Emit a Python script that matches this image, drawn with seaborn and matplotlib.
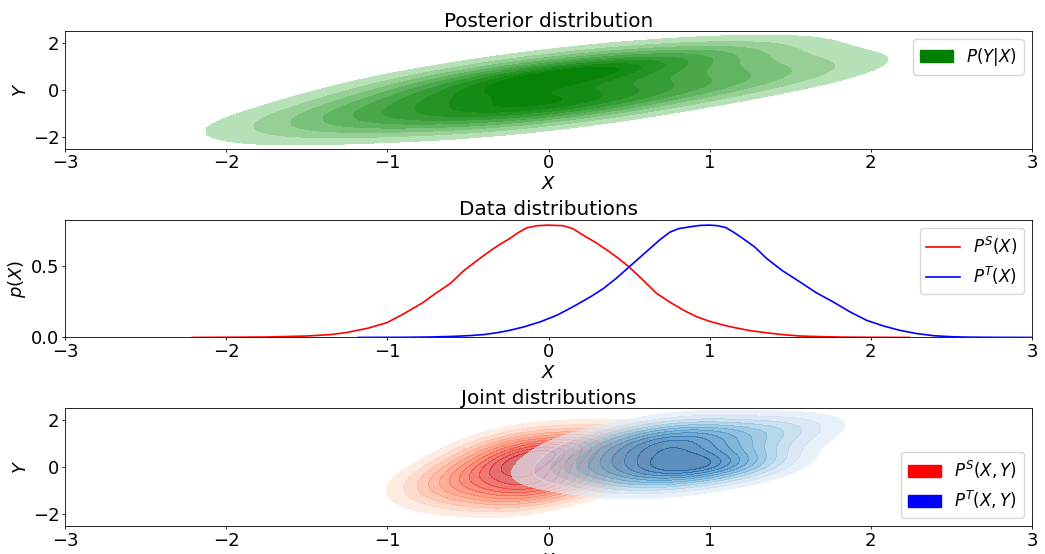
import matplotlib
matplotlib.use("Agg")
import matplotlib.pyplot as plt
from matplotlib.patches import Patch
from matplotlib.colors import ListedColormap
import seaborn as sns
import numpy as np

# posterior samples P(Y|X)
post_x = [-1.6, -1.3, -1.1, -0.9, -0.8, -0.6, -0.5, -0.4, -0.3, -0.2, -0.1, 0.0,
          0.0, 0.1, 0.2, 0.3, 0.4, 0.5, 0.6, 0.8, 0.9, 1.1, 1.3, 1.6]
post_y = [-1.25, -1.66, -0.52, -1.01, 0.32, -1.05, -0.23, -1.28, 0.29, 0.61, -0.32, 1.13,
          -1.13, -0.68, 0.52, -0.29, 1.28, 0.98, -0.46, 1.19, 0.38, 1.52, 0.29, 1.00]

# data distributions p(X)
ps_x = [-2.21, -2.0, -1.75, -1.5, -1.35, -1.25, -1.12, -1.0, -0.9, -0.78, -0.7, -0.61,
        -0.53, -0.45, -0.36, -0.3, -0.24, -0.19, -0.135, -0.07, 0.0, 0.09, 0.15, 0.22,
        0.3, 0.38, 0.44, 0.5, 0.58, 0.67, 0.75, 0.84, 0.92, 1.0, 1.08, 1.15, 1.25,
        1.35, 1.45, 1.56, 1.7, 1.85, 2.0, 2.24]
ps_y = [0.0, 0.001, 0.003, 0.01, 0.02, 0.035, 0.065, 0.105, 0.165, 0.244, 0.31, 0.378,
        0.465, 0.535, 0.61, 0.655, 0.695, 0.735, 0.77, 0.785, 0.789, 0.785, 0.765, 0.715,
        0.662, 0.60, 0.55, 0.495, 0.41, 0.31, 0.25, 0.19, 0.145, 0.113, 0.088, 0.07, 0.048,
        0.033, 0.02, 0.01, 0.005, 0.002, 0.001, 0.0]
pt_x = [-1.18, -0.9, -0.735, -0.6, -0.5, -0.4, -0.32, -0.24, -0.156, -0.05, 0.05, 0.11,
        0.175, 0.26, 0.34, 0.42, 0.5, 0.57, 0.63, 0.69, 0.754, 0.81, 0.878, 0.94, 1.0,
        1.05, 1.1, 1.15, 1.2, 1.28, 1.354, 1.45, 1.56, 1.66, 1.767, 1.87, 1.974, 2.08,
        2.18, 2.28, 2.39, 2.5, 2.6, 2.8, 3.0]
pt_y = [0.0, 0.001, 0.003, 0.007, 0.012, 0.02, 0.033, 0.05, 0.073, 0.11, 0.155, 0.19,
        0.23, 0.285, 0.343, 0.415, 0.495, 0.565, 0.625, 0.685, 0.74, 0.765, 0.777, 0.787,
        0.789, 0.785, 0.772, 0.738, 0.70, 0.635, 0.554, 0.47, 0.39, 0.315, 0.249, 0.18,
        0.12, 0.08, 0.05, 0.028, 0.012, 0.005, 0.002, 0.0005, 0.0]

# joint samples
src_x = [-0.73, -0.59, -0.49, -0.41, -0.34, -0.26, -0.23, -0.15, -0.12, -0.12, -0.09, -0.01,
         0.02, 0.10, 0.17, 0.25, 0.35, 0.49]
src_y = [-0.59, -1.16, 0.06, -0.55, 0.81, -1.12, 0.05, -0.57, 1.11, -1.21, 0.47, 0.52,
         -0.80, 0.74, -0.38, 1.00, -0.43, 1.15]
tgt_x = [0.08, 0.25, 0.37, 0.46, 0.54, 0.63, 0.67, 0.76, 0.8, 0.8, 0.84, 0.93,
         0.97, 1.06, 1.14, 1.23, 1.35, 1.52]
tgt_y = [-0.15, 0.88, -0.08, 0.59, -0.56, 1.31, -0.01, 0.96, -0.51, 1.59, 0.12, 0.79,
         1.42, 0.14, 0.04, 0.11, 1.55, 1.53]

plt.rcParams['font.size'] = 12
plt.rcParams['axes.linewidth'] = 0.6
for k in ['xtick', 'ytick']:
    plt.rcParams[k + '.major.size'] = 2.2
    plt.rcParams[k + '.major.width'] = 0.6
    plt.rcParams[k + '.major.pad'] = 1.8
    plt.rcParams[k + '.labelsize'] = 13
plt.rcParams['axes.labelsize'] = 13
plt.rcParams['axes.labelpad'] = 2
plt.rcParams['axes.titlesize'] = 14.4
plt.rcParams['axes.titlepad'] = 3

fig, axes = plt.subplots(3, 1, figsize=(10.45, 5.54), dpi=100)
plt.subplots_adjust(left=65/1045, right=1032/1045, top=1-31/554, bottom=1-526/554, hspace=0.6)

# Posterior
ax = axes[0]
green_cmap = sns.blend_palette(["#c6eac6", "green"], as_cmap=True)
sns.kdeplot(x=post_x, y=post_y, fill=True, cmap=green_cmap, levels=10, thresh=0.07,
            bw_adjust=1.25, clip=((-2.12, 2.12), (-2.5, 2.5)), ax=ax)
ax.set_xlim(-3, 3)
ax.set_ylim(-2.5, 2.5)
ax.set_xlabel("$X$")
ax.set_ylabel("$Y$")
ax.set_title("Posterior distribution")
ax.legend(handles=[Patch(color="green", label="$P(Y|X)$")], loc="upper right")

# Data distributions
ax = axes[1]
sns.lineplot(x=ps_x, y=ps_y, color="red", lw=1.2, label="$P^S(X)$", ax=ax)
sns.lineplot(x=pt_x, y=pt_y, color="blue", lw=1.2, label="$P^T(X)$", ax=ax)
ax.set_xlim(-3, 3)
ax.set_ylim(0, 0.828)
ax.set_xlabel("$X$")
ax.set_ylabel("$p(X)$")
ax.set_title("Data distributions")
ax.legend(loc="upper right")

# Joint distributions
ax = axes[2]
reds = ListedColormap(plt.cm.Reds(np.linspace(0.08, 0.78, 256)))
blues = ListedColormap(plt.cm.Blues(np.linspace(0.08, 0.9, 256)))
sns.kdeplot(x=src_x, y=src_y, fill=True, cmap=reds, levels=12, thresh=0.1,
            bw_adjust=1.3, alpha=0.65, ax=ax)
sns.kdeplot(x=tgt_x, y=tgt_y, fill=True, cmap=blues, levels=12, thresh=0.1,
            bw_adjust=1.3, alpha=0.65, ax=ax)
ax.set_xlim(-3, 3)
ax.set_ylim(-2.5, 2.5)
ax.set_xlabel("$X$")
ax.set_ylabel("$Y$")
ax.set_title("Joint distributions")
ax.legend(handles=[Patch(color="red", label="$P^S(X,Y)$"),
                   Patch(color="blue", label="$P^T(X,Y)$")], loc="lower right")

for a in axes:
    a.set_xticks([-3, -2, -1, 0, 1, 2, 3])

fig.savefig("out.png", dpi=100)
